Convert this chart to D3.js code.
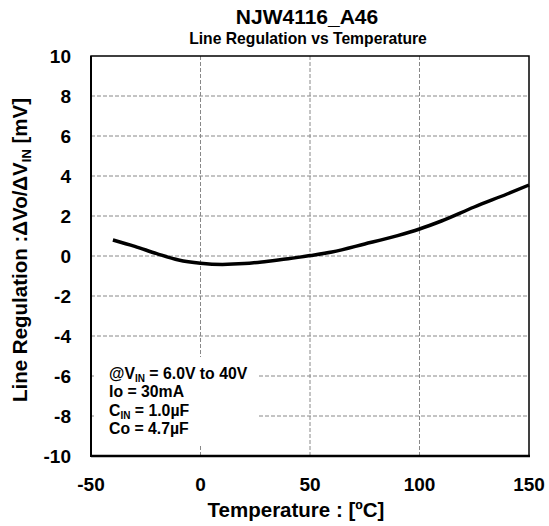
<!DOCTYPE html>
<html><head><meta charset="utf-8">
<script src="https://cdn.jsdelivr.net/npm/d3@7/dist/d3.min.js"></script>
<style>body{margin:0;background:#fff}svg{font-family:"Liberation Sans",Arial,sans-serif;font-weight:bold}</style>
</head><body><svg id="c" width="549" height="526"></svg>
<script>
const temps = [-40,-30,-20,-10,0,10,20,30,40,50,60,75,90,100,110,125,140,150];
const lineReg = [0.80,0.48,0.12,-0.20,-0.36,-0.42,-0.38,-0.27,-0.14,0.02,0.20,0.60,1.02,1.35,1.75,2.45,3.10,3.55];
const xTicks = [-50,0,50,100,150];
const yTicks = [-10,-8,-6,-4,-2,0,2,4,6,8,10];
const noteLines = [["@V","IN"," = 6.0V to 40V"],["Io = 30mA","",""],["C","IN"," = 1.0µF"],["Co = 4.7µF","",""]];

const svg = d3.select("#c");
const L=91,R=529,T=56,B=456;
const x = d3.scaleLinear().domain([-50,150]).range([L,R]);
const y = d3.scaleLinear().domain([-10,10]).range([B,T]);

// grid
const g = svg.append("g");
g.selectAll(".vg").data(xTicks.slice(1,-1)).enter().append("line")
 .attr("x1",d=>x(d)).attr("x2",d=>x(d)).attr("y1",T).attr("y2",B)
 .attr("stroke","#888").attr("stroke-width",1).attr("stroke-dasharray","4,2");
g.selectAll(".hg").data(yTicks.slice(1,-1)).enter().append("line")
 .attr("y1",d=>y(d)).attr("y2",d=>y(d)).attr("x1",L).attr("x2",R)
 .attr("stroke","#888").attr("stroke-width",1).attr("stroke-dasharray","4,2");

// note box
svg.append("rect").attr("x",94).attr("y",357).attr("width",163).attr("height",88).attr("fill","#fff");
const note = svg.append("g").attr("font-size",15.8);
noteLines.forEach((ln,i)=>{
  const t = note.append("text").attr("x",109).attr("y",379+i*18.4);
  t.append("tspan").text(ln[0]);
  if(ln[1]){
    t.append("tspan").attr("font-size",10).attr("dy",3).text(ln[1]);
    t.append("tspan").attr("dy",-3).text(ln[2]);
  }
});

// frame
svg.append("rect").attr("x",L).attr("y",T).attr("width",R-L).attr("height",B-T)
 .attr("fill","none").attr("stroke","#000").attr("stroke-width",1.5);
svg.append("line").attr("x1",L).attr("x2",L).attr("y1",T).attr("y2",B+1).attr("stroke","#000").attr("stroke-width",2);
svg.append("line").attr("x1",L).attr("x2",R+1).attr("y1",B).attr("y2",B).attr("stroke","#000").attr("stroke-width",2.5);

// curve
svg.append("path").datum(temps.map((t,i)=>[t,lineReg[i]]))
 .attr("d",d3.line().x(d=>x(d[0])).y(d=>y(d[1])).curve(d3.curveMonotoneX))
 .attr("fill","none").attr("stroke","#000").attr("stroke-width",3.5);

// tick labels
svg.append("g").selectAll("text").data(yTicks).enter().append("text")
 .attr("x",71).attr("y",d=>y(d)+7).attr("text-anchor","end").attr("font-size",19).text(d=>d);
svg.append("g").selectAll("text").data(xTicks).enter().append("text")
 .attr("x",d=>x(d)).attr("y",491).attr("text-anchor","middle").attr("font-size",19).text(d=>d);

// titles
svg.append("text").attr("x",307).attr("y",24).attr("text-anchor","middle").attr("font-size",21).text("NJW4116_A46");
svg.append("text").attr("x",308).attr("y",44).attr("text-anchor","middle").attr("font-size",15.7).text("Line Regulation vs Temperature");
svg.append("text").attr("x",296).attr("y",517).attr("text-anchor","middle").attr("font-size",20.5).text("Temperature : [ºC]");
const yt = svg.append("text").attr("transform","translate(27,250) rotate(-90)").attr("text-anchor","middle").attr("font-size",20.5);
yt.append("tspan").text("Line Regulation :ΔVo/ΔV");
yt.append("tspan").attr("font-size",13).attr("dy",4).text("IN");
yt.append("tspan").attr("dy",-4).text(" [mV]");
</script></body></html>
